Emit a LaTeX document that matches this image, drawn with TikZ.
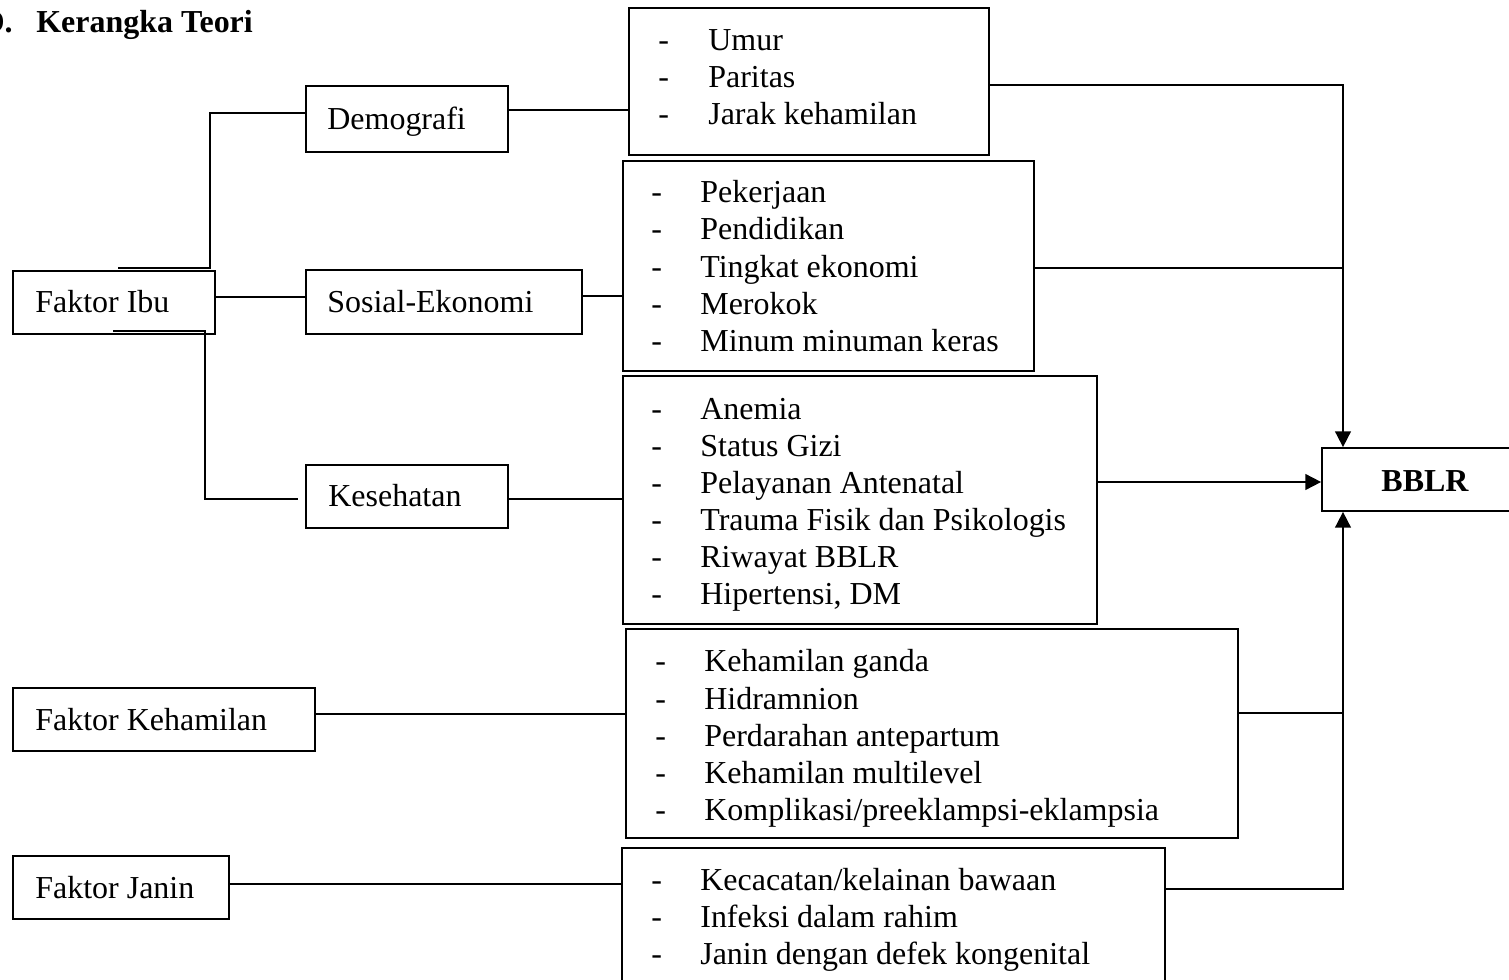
\documentclass[tikz,border=0pt]{standalone}
\usepackage{fontspec}
\setmainfont{Liberation Serif}
\usetikzlibrary{arrows.meta}
\begin{document}
\begin{tikzpicture}[x=0.02cm,y=-0.02cm,
  bx/.style={draw,line width=1pt,inner sep=0pt,rectangle},
  ln/.style={line width=1pt},
  arr/.style={line width=1pt,-{Triangle[length=9pt,width=9pt]}},
  tx/.style={anchor=base west,inner sep=0pt,font=\fontsize{18.2}{21}\selectfont},
  dsh/.style={anchor=base west,inner sep=0pt,font=\fontsize{18.2}{21}\selectfont}]
\useasboundingbox (0,0) rectangle (1509,980);
\clip (0,0) rectangle (1509,980);
% title
\node[anchor=base east,inner sep=0pt,font=\fontsize{18.2}{21}\selectfont\bfseries] (tD) at (13,33) {D.};
\node[tx,font=\fontsize{18.2}{21}\selectfont\bfseries] (title) at (36,33) {Kerangka Teori};
% boxes
\node[bx,minimum width=4.04cm,minimum height=1.26cm] (ibu) at (114,302.5) {};
\node[tx] at (35,312) {Faktor Ibu};
\node[bx,minimum width=4.04cm,minimum height=1.32cm] (demo) at (407,119) {};
\node[tx] at (327,130) {Demografi};
\node[bx,minimum width=5.52cm,minimum height=1.28cm] (sos) at (444,302) {};
\node[tx] at (327,312) {Sosial-Ekonomi};
\node[bx,minimum width=4.04cm,minimum height=1.26cm] (kes) at (407,496.5) {};
\node[tx] at (328,506) {Kesehatan};
\node[bx,minimum width=6.04cm,minimum height=1.26cm] (fkeh) at (164,719.5) {};
\node[tx] at (35,730) {Faktor Kehamilan};
\node[bx,minimum width=4.32cm,minimum height=1.26cm] (fjan) at (121,887.5) {};
\node[tx] at (35,898) {Faktor Janin};
\node[bx,minimum width=4.12cm,minimum height=1.26cm] (bblr) at (1425,479.5) {};
\node[anchor=base,inner sep=0pt,font=\fontsize{18.2}{21}\selectfont\bfseries] at (1425,491) {BBLR};
% list boxes
\node[bx,minimum width=7.2cm,minimum height=2.94cm] (umur) at (809,81.5) {};
\foreach \t/\y in {Umur/51,Paritas/88,{Jarak kehamilan}/125}{
  \node[dsh] at (658,\y) {-};
  \node[tx] at (708,\y) {\t};
}
\node[bx,minimum width=8.22cm,minimum height=4.2cm] (pek) at (828.5,266) {};
\foreach \t/\y in {Pekerjaan/202,Pendidikan/239,{Tingkat ekonomi}/277,Merokok/314,{Minum minuman keras}/351}{
  \node[dsh] at (651,\y) {-};
  \node[tx] at (700,\y) {\t};
}
\node[bx,minimum width=9.48cm,minimum height=4.96cm] (anem) at (860,500) {};
\foreach \t/\y in {Anemia/419,{Status Gizi}/456,{Pelayanan Antenatal}/493,{Trauma Fisik dan Psikologis}/530,{Riwayat BBLR}/567,{Hipertensi, DM}/604}{
  \node[dsh] at (651,\y) {-};
  \node[tx] at (700,\y) {\t};
}
\node[bx,minimum width=12.24cm,minimum height=4.18cm] (keh) at (932,733.5) {};
\foreach \t/\y in {{Kehamilan ganda}/671,Hidramnion/709,{Perdarahan antepartum}/746,{Kehamilan multilevel}/783,{Komplikasi/preeklampsi-eklampsia}/820}{
  \node[dsh] at (655,\y) {-};
  \node[tx] at (704,\y) {\t};
}
\node[bx,minimum width=10.86cm,minimum height=2.84cm] (jan) at (893.5,919) {};
\foreach \t/\y in {{Kecacatan/kelainan bawaan}/890,{Infeksi dalam rahim}/927,{Janin dengan defek kongenital}/964}{
  \node[dsh] at (651,\y) {-};
  \node[tx] at (700,\y) {\t};
}
% connectors left
\coordinate (ibuT) at (118,268);
\coordinate (ibuB) at (113,331);
\coordinate (kesL) at (298,499);
\draw[ln] (ibuT) -- (210,268) |- (demo.west |- 0,113);
\draw[ln] (ibu.east |- 0,297) -- (sos.west |- 0,297);
\draw[ln] (ibuB) -- (205,331) |- (kesL);
\draw[ln] (demo.east |- 0,110) -- (umur.west |- 0,110);
\draw[ln] (sos.east |- 0,296) -- (pek.west |- 0,296);
\draw[ln] (kes.east |- 0,499) -- (anem.west |- 0,499);
\draw[ln] (fkeh.east |- 0,714) -- (keh.west |- 0,714);
\draw[ln] (fjan.east |- 0,884) -- (jan.west |- 0,884);
% connectors right
\coordinate (busT) at (1343,85);
\coordinate (busB) at (1343,889);
\draw[arr] (umur.east |- busT) -- (busT) -- (busT |- bblr.north);
\draw[ln] (pek.east |- 0,268) -- (busT |- 0,268);
\draw[arr] (anem.east |- 0,482) -- (bblr.west |- 0,482);
\draw[ln] (keh.east |- 0,713) -- (busT |- 0,713);
\draw[arr] (jan.east |- busB) -- (busB) -- (busB |- bblr.south);
\end{tikzpicture}
\end{document}
